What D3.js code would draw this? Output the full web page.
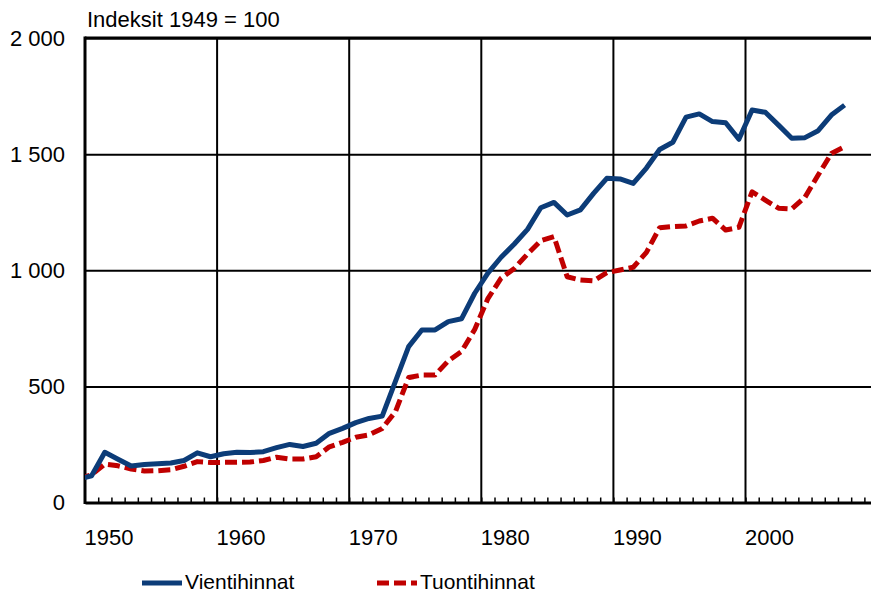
<!DOCTYPE html>
<html>
<head>
<meta charset="utf-8">
<title>Vienti- ja tuontihinnat</title>
<style>
  body { margin: 0; background: #fff; }
  svg { display: block; font-family: Arial, "Liberation Sans", sans-serif; }
</style>
</head>
<body>
<div id="chart"></div>
<script src="https://d3js.org/d3.v7.min.js"></script>
<script>

// Data (index 1949 = 100)
var years = [1949, 1950, 1951, 1952, 1953, 1954, 1955, 1956, 1957, 1958,
             1959, 1960, 1961, 1962, 1963, 1964, 1965, 1966, 1967, 1968,
             1969, 1970, 1971, 1972, 1973, 1974, 1975, 1976, 1977, 1978,
             1979, 1980, 1981, 1982, 1983, 1984, 1985, 1986, 1987, 1988,
             1989, 1990, 1991, 1992, 1993, 1994, 1995, 1996, 1997, 1998,
             1999, 2000, 2001, 2002, 2003, 2004, 2005, 2006, 2007];

var vienti = [100, 115, 216, 186, 157, 164, 167, 170, 181, 214,
              197, 210, 216, 215, 219, 236, 250, 241, 255, 298,
              319, 344, 362, 372, 522, 671, 743, 743, 779, 791,
              901, 988, 1056, 1113, 1176, 1269, 1292, 1238, 1260, 1331,
              1396, 1393, 1374, 1440, 1520, 1551, 1659, 1673, 1640, 1635,
              1564, 1690, 1680, 1625, 1568, 1571, 1601, 1668, 1711];

var tuonti = [100, 120, 165, 158, 144, 136, 137, 141, 156, 176,
              172, 173, 173, 174, 181, 195, 187, 187, 197, 240,
              259, 281, 291, 319, 391, 538, 549, 549, 610, 650,
              745, 878, 966, 1008, 1070, 1127, 1145, 972, 958, 954,
              990, 1001, 1013, 1077, 1183, 1188, 1191, 1212, 1224, 1173,
              1185, 1338, 1302, 1267, 1264, 1314, 1410, 1503, 1532];

var seriesNames = ["Vientihinnat", "Tuontihinnat"];
var yTicks = [0, 500, 1000, 1500, 2000];
var xLabels = [1950, 1960, 1970, 1980, 1990, 2000];
var gridYears = [1960, 1970, 1980, 1990, 2000];

var width = 871, height = 595;
var plotLeft = 85, plotRight = 877.6, plotTop = 38, plotBottom = 502.5;

var blue = "#0c3c78", red = "#c00000";

var svg = d3.select("#chart").append("svg")
    .attr("width", width)
    .attr("height", height);

var x = d3.scaleLinear().domain([1950, 2010]).range([plotLeft, plotRight]);
var y = d3.scaleLinear().domain([0, 2000]).range([plotBottom, plotTop]);

// title
svg.append("text")
    .attr("x", 87)
    .attr("y", 27)
    .style("font-size", "22px")
    .text("Indeksit 1949 = 100");

// horizontal gridlines + y labels
var yAxis = svg.append("g")
    .attr("transform", "translate(" + plotLeft + ",0)")
    .call(d3.axisLeft(y)
        .tickValues(yTicks)
        .tickSize(-(plotRight - plotLeft))
        .tickPadding(20)
        .tickFormat(function(d) { return d3.format(",")(d).replace(",", " "); }));
yAxis.select(".domain").remove();
yAxis.selectAll(".tick line").attr("stroke", "#000").attr("stroke-width", 2);
yAxis.selectAll(".tick text")
    .style("font-size", "22px")
    .attr("fill", "#000");
yAxis.attr("font-family", null).attr("font-size", null);

// vertical gridlines
svg.append("g").selectAll("line")
    .data(gridYears)
    .enter().append("line")
    .attr("x1", function(d) { return x(d); })
    .attr("x2", function(d) { return x(d); })
    .attr("y1", y(0))
    .attr("y2", y(2000))
    .attr("stroke", "#000")
    .attr("stroke-width", 2);

// minor year ticks on the bottom axis
var xAxis = svg.append("g")
    .attr("transform", "translate(0," + plotBottom + ")")
    .call(d3.axisBottom(x)
        .tickValues(d3.range(1951, 2010))
        .tickSize(-5)
        .tickSizeOuter(0)
        .tickFormat(""));
xAxis.select(".domain").attr("stroke", "#000").attr("stroke-width", 3);
xAxis.selectAll(".tick line").attr("stroke", "#000").attr("stroke-width", 1.5);

// x labels, starting at the decade line
svg.append("g").selectAll("text")
    .data(xLabels)
    .enter().append("text")
    .attr("x", function(d) { return x(d) - 0.5; })
    .attr("y", 545)
    .style("font-size", "22px")
    .text(function(d) { return d; });

// frame: left and top
svg.append("line")
    .attr("x1", plotLeft).attr("x2", plotLeft)
    .attr("y1", plotTop - 1.5).attr("y2", plotBottom + 1.5)
    .attr("stroke", "#000").attr("stroke-width", 3);
svg.append("line")
    .attr("x1", plotLeft).attr("x2", plotRight)
    .attr("y1", plotTop).attr("y2", plotTop)
    .attr("stroke", "#000").attr("stroke-width", 3);

// clip for the lines (1949 point lies left of the axis)
svg.append("clipPath").attr("id", "plot")
    .append("rect")
    .attr("x", plotLeft).attr("y", plotTop)
    .attr("width", plotRight - plotLeft).attr("height", plotBottom - plotTop);

var line = d3.line()
    .x(function(d) { return x(d.year + 0.5); })
    .y(function(d) { return y(d.v); });

function pairs(vals) {
    return years.map(function(yr, i) { return {year: yr, v: vals[i]}; });
}

var plot = svg.append("g").attr("clip-path", "url(#plot)");

plot.append("path")
    .datum(pairs(tuonti))
    .attr("d", line)
    .attr("fill", "none")
    .attr("stroke", red)
    .attr("stroke-width", 5)
    .attr("stroke-linejoin", "round")
    .attr("stroke-dasharray", "12,5");

plot.append("path")
    .datum(pairs(vienti))
    .attr("d", line)
    .attr("fill", "none")
    .attr("stroke", blue)
    .attr("stroke-width", 5)
    .attr("stroke-linejoin", "round");

// legend
var legend = [
    {name: seriesNames[0], color: blue, dash: null, x: 142},
    {name: seriesNames[1], color: red, dash: "12,5", x: 377}
];
var lg = svg.append("g").selectAll("g")
    .data(legend)
    .enter().append("g");
lg.append("line")
    .attr("x1", function(d) { return d.x; })
    .attr("x2", function(d) { return d.x + 40; })
    .attr("y1", 583).attr("y2", 583)
    .attr("stroke", function(d) { return d.color; })
    .attr("stroke-width", 5)
    .attr("stroke-dasharray", function(d) { return d.dash; });
lg.append("text")
    .attr("x", function(d) { return d.x + 43; })
    .attr("y", 589)
    .style("font-size", "21px")
    .text(function(d) { return d.name; });

</script>
</body>
</html>
